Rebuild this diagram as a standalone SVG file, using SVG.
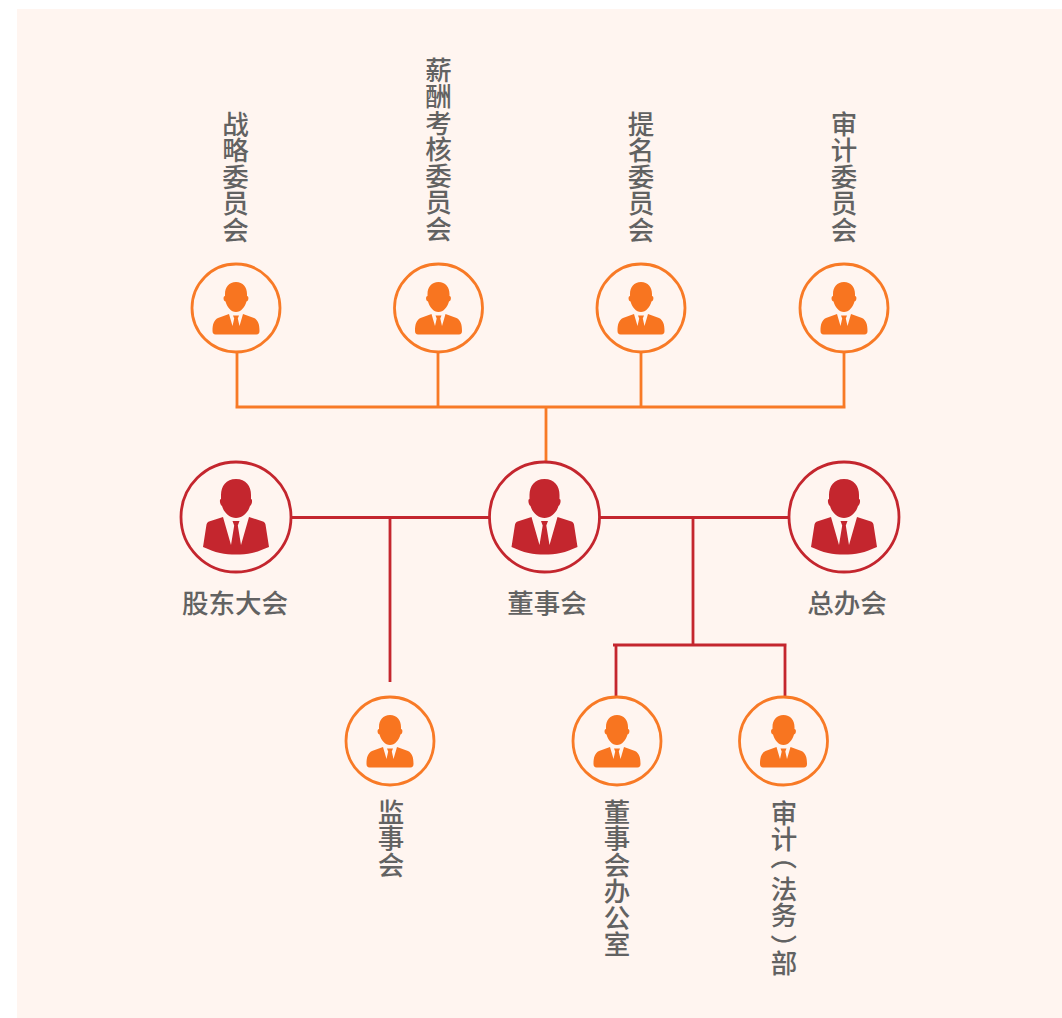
<svg xmlns="http://www.w3.org/2000/svg" width="1062" height="1018" viewBox="0 0 1062 1018">
<style>
.t{font-family:"Noto Sans CJK SC","Noto Sans",sans-serif;font-size:26.5px;fill:#626262;font-weight:500}
.v{writing-mode:vertical-rl}
.h{text-anchor:middle}
.co{fill:#fff5f0;stroke:#f87a26;stroke-width:2.8}
.cr{fill:#fff5f0;stroke:#c4262e;stroke-width:2.8}
.lo{fill:none;stroke:#f87a26;stroke-width:2.8}
.lr{fill:none;stroke:#c4262e;stroke-width:2.8}
</style>
<defs>
<g id="ps">
<path fill="#f87520" d="M0-26C-7-26-11-21-11-14L-11-12C-13-12-13-7-10.500-6.500C-9-1-5 4 0 4C5 4 9-1 10.500-6.500C13-7 13-12 11-12L11-14C11-21 7-26 0-26Z"/>
<path fill="#f87520" d="M-7 6L-18 10C-22 12-23.500 16-23.500 23C-23.500 25-22.500 26.500-20.500 26.500L20.500 26.500C22.500 26.500 23.500 25 23.500 23C23.500 16 22 12 18 10L7 6L3.500 18L1.800 10.500L3 7.500L-3 7.500L-1.800 10.500L-3.500 18Z"/>
</g>
<g id="pb">
<path fill="#c4262e" d="M0-38C-10-38-15-31-15-22L-15-18C-17-18-16-12-14-11C-12-4-6 1 0 1C6 1 12-4 14-11C16-12 17-18 15-18L15-22C15-31 10-38 0-38Z"/>
<path fill="#c4262e" d="M-13 0L-27 4.500C-28.500 5-29 6-29.500 7.500L-33 30C-27 32-22 35-16 36C-6 38 6 38 16 36C22 35 27 32 33 30L29.500 7.500C29 6 28.500 5 27 4.500L13 0L5 28L1.800 8.500L3.500 4L-3.500 4L-1.800 8.500L-5 28Z"/>
</g>
</defs>
<rect x="17" y="9" width="1045" height="1009" fill="#fff5f0"/>
<g id="connectors">
<path class="lo" d="M237 352V407M438 352V407M641 352V407M844 352V407M235.500 407H845.500M546 407V462"/>
<path class="lr" d="M292 517.500H489M600 517.500H789M390 517.500V682M693 517.500V645M613 645H786.500M616 645V697M785 645V697"/>
</g>
<g id="n-zlwyh"><circle class="co" cx="236" cy="308" r="44"/><use href="#ps" x="236" y="308"/><text class="t v" x="235.500" y="110.500">战略委员会</text></g>
<g id="n-xcwyh"><circle class="co" cx="438.500" cy="308" r="44"/><use href="#ps" x="438.500" y="308"/><text class="t v" x="438.500" y="56.500">薪酬考核委员会</text></g>
<g id="n-tmwyh"><circle class="co" cx="641" cy="308" r="44"/><use href="#ps" x="641" y="308"/><text class="t v" x="641" y="110.500">提名委员会</text></g>
<g id="n-sjwyh"><circle class="co" cx="844" cy="308" r="44"/><use href="#ps" x="844" y="308"/><text class="t v" x="844" y="110.500">审计委员会</text></g>
<g id="n-gddh"><circle class="cr" cx="236" cy="517" r="55"/><use href="#pb" x="236" y="517"/><text class="t h" x="235" y="613">股东大会</text></g>
<g id="n-dsh"><circle class="cr" cx="544.500" cy="517" r="55"/><use href="#pb" x="544.500" y="517"/><text class="t h" x="547" y="613">董事会</text></g>
<g id="n-zbh"><circle class="cr" cx="844" cy="517" r="55"/><use href="#pb" x="844" y="517"/><text class="t h" x="847" y="613">总办会</text></g>
<g id="n-jsh"><circle class="co" cx="390" cy="741" r="44"/><use href="#ps" x="390" y="741"/><text class="t v" x="391" y="798.500">监事会</text></g>
<g id="n-dshbgs"><circle class="co" cx="617" cy="741" r="44"/><use href="#ps" x="617" y="741"/><text class="t v" x="617" y="798.500">董事会办公室</text></g>
<g id="n-sjb"><circle class="co" cx="783.500" cy="741" r="44"/><use href="#ps" x="783.500" y="741"/>
<text class="t v" x="784"><tspan y="799.500">审计</tspan><tspan y="875.500">法务</tspan><tspan y="950">部</tspan></text>
<text class="t" transform="translate(784 864) rotate(90)" x="-20.700" y="10">（</text>
<text class="t" transform="translate(784 940) rotate(90)" x="-6" y="10">）</text>
</g>
</svg>
